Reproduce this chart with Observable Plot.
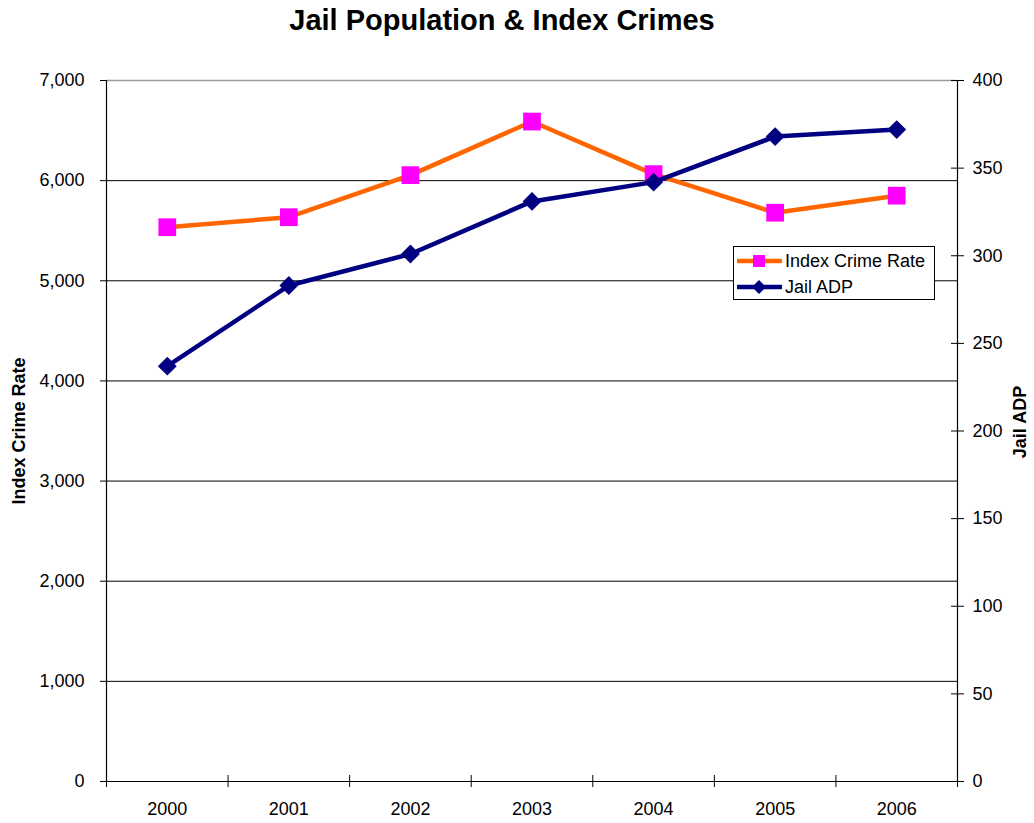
<!DOCTYPE html>
<html>
<head>
<meta charset="utf-8">
<script src="https://cdn.jsdelivr.net/npm/d3@7"></script>
<script src="https://cdn.jsdelivr.net/npm/@observablehq/plot@0.6"></script>
<style>
  html, body { margin: 0; padding: 0; background: #fff; }
  body { font-family: "Liberation Sans", Arial, sans-serif; color: #000; }
  #wrap { position: relative; width: 1034px; height: 823px; overflow: hidden; }
  #title { position: absolute; left: 0; top: 0; width: 1004px; text-align: center;
           font-weight: bold; font-size: 29px; line-height: 40px; }
  #chart { position: absolute; left: 0; top: 40px; }
  #legend { position: absolute; left: 733px; top: 246px; width: 202px; height: 54px;
            border: 1px solid #000; background: #fff; font-size: 18px; box-sizing: border-box; }
  .item { position: absolute; left: 3px; height: 24px; display: flex; align-items: center; white-space: nowrap; }
  .item svg { display: block; margin-right: 3px; }
</style>
</head>
<body>
<div id="wrap">
  <div id="title">Jail Population &amp; Index Crimes</div>
  <div id="chart"></div>
  <div id="legend"></div>
</div>
<script>
// ---- data ----
const years = [2000, 2001, 2002, 2003, 2004, 2005, 2006];
const crimeRate = [5535, 5635, 6055, 6590, 6065, 5680, 5850];
const jailADP = [237, 283, 301, 331, 342, 368, 372];
const leftTicks = [0, 1000, 2000, 3000, 4000, 5000, 6000, 7000];
const rightTicks = [0, 50, 100, 150, 200, 250, 300, 350, 400];
const seriesNames = ["Index Crime Rate", "Jail ADP"];
const axisTitles = ["Index Crime Rate", "Jail ADP"];

const orange = "#FF6600", magenta = "#FF00FF", navy = "#000080";
const ratio = 7000 / 400; // right axis (0–400) mapped onto left axis (0–7000)

const rows = years.map((year, i) => ({year, crime: crimeRate[i], adp: jailADP[i]}));
const bounds = [years[0] - 0.5, ...years.map(y => y + 0.5)];

const chart = Plot.plot({
  width: 1034,
  height: 783,
  marginTop: 40,
  marginBottom: 42,
  marginLeft: 106,
  marginRight: 77,
  style: {fontFamily: "'Liberation Sans', Arial, sans-serif", fontSize: "18px", color: "#000", background: "#fff"},
  x: {type: "linear", domain: [bounds[0], bounds[bounds.length - 1]]},
  y: {domain: [0, 7000]},
  marks: [
    // gridlines
    Plot.ruleY(leftTicks.filter(d => d > 0 && d < 7000), {stroke: "#000", strokeWidth: 1}),
    Plot.ruleY([7000], {stroke: "#9a9a9a", strokeWidth: 1.5}),
    // frame lines
    Plot.ruleY([0], {stroke: "#000", strokeWidth: 1.2}),
    Plot.ruleX([bounds[0]], {stroke: "#000", strokeWidth: 1.2}),
    Plot.ruleX([bounds[bounds.length - 1]], {stroke: "#000", strokeWidth: 1.2}),
    // left axis
    Plot.axisY({ticks: leftTicks, tickSize: 6, tickPadding: 16, tickFormat: d3.format(","), label: null, stroke: "#000"}),
    // right axis
    Plot.axisY({anchor: "right", ticks: rightTicks.map(d => d * ratio), tickSize: 13, dx: -7,
                tickFormat: () => "", label: null}),
    Plot.axisY({anchor: "right", ticks: rightTicks.map(d => d * ratio), tickSize: 0, tickPadding: 15,
                tickFormat: d => String(Math.round(d / ratio)), label: null}),
    // x axis
    Plot.axisX({ticks: bounds, tickSize: 12, dy: -6, tickFormat: () => "", label: null}),
    Plot.axisX({ticks: years, tickSize: 0, tickPadding: 21, tickFormat: d => String(d), label: null}),
    // axis titles
    Plot.text([axisTitles[0]], {text: d => d, frameAnchor: "left", textAnchor: "middle", rotate: -90,
                                dx: -87, fontWeight: "bold", fontSize: 18}),
    Plot.text([axisTitles[1]], {text: d => d, frameAnchor: "right", textAnchor: "middle", rotate: -90,
                                dx: 63, dy: -9, fontWeight: "bold", fontSize: 18}),
    // Index Crime Rate series
    Plot.line(rows, {x: "year", y: "crime", stroke: orange, strokeWidth: 4.5}),
    Plot.dot(rows, {x: "year", y: "crime", symbol: "square", r: 10, fill: magenta, stroke: "none"}),
    // Jail ADP series (right axis)
    Plot.line(rows, {x: "year", y: d => d.adp * ratio, stroke: navy, strokeWidth: 4.5}),
    Plot.dot(rows, {x: "year", y: d => d.adp * ratio, symbol: "diamond2", r: 8.5, fill: navy, stroke: "none"})
  ]
});
document.getElementById("chart").appendChild(chart);

// legend
const legend = document.getElementById("legend");
const swatches = [
  {name: seriesNames[0], color: orange, marker: `<rect x="16" y="5" width="12" height="12" fill="${magenta}"/>`},
  {name: seriesNames[1], color: navy, marker: `<path d="M22,4 L29,11 L22,18 L15,11 Z" fill="${navy}"/>`}
];
swatches.forEach((s, i) => {
  const div = document.createElement("div");
  div.className = "item";
  div.style.top = (i === 0 ? 2 : 28) + "px";
  div.innerHTML = `<svg width="45" height="22"><line x1="1" y1="11" x2="44" y2="11" stroke="${s.color}" stroke-width="4.5" stroke-linecap="round"/>${s.marker}</svg><span>${s.name}</span>`;
  legend.appendChild(div);
});
</script>
</body>
</html>
